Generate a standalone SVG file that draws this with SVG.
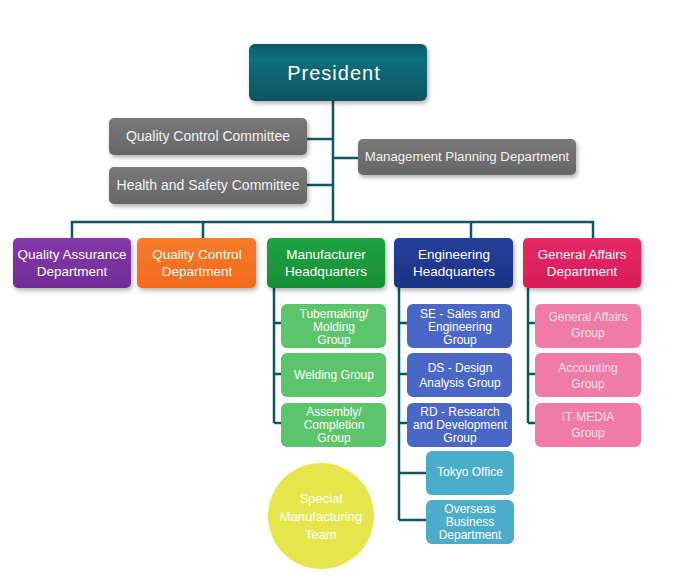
<svg xmlns="http://www.w3.org/2000/svg" width="675" height="578" viewBox="0 0 675 578">
<defs>
<filter id="sh" x="-10%" y="-10%" width="130%" height="140%"><feDropShadow dx="1.5" dy="2.5" stdDeviation="2" flood-color="#000" flood-opacity="0.3"/></filter>
<linearGradient id="gPres" x1="0" y1="0" x2="0" y2="1"><stop offset="0" stop-color="#0a5865"/><stop offset="0.25" stop-color="#0e6f7d"/><stop offset="1" stop-color="#085461"/></linearGradient>
<linearGradient id="gGray" x1="0" y1="0" x2="0" y2="1"><stop offset="0" stop-color="#787878"/><stop offset="1" stop-color="#676767"/></linearGradient>
<linearGradient id="gPur" x1="0" y1="0" x2="0" y2="1"><stop offset="0" stop-color="#8538a8"/><stop offset="1" stop-color="#722c98"/></linearGradient>
<linearGradient id="gOr" x1="0" y1="0" x2="0" y2="1"><stop offset="0" stop-color="#f67c2c"/><stop offset="1" stop-color="#f26a1c"/></linearGradient>
<linearGradient id="gGr" x1="0" y1="0" x2="0" y2="1"><stop offset="0" stop-color="#20a342"/><stop offset="1" stop-color="#178f35"/></linearGradient>
<linearGradient id="gNv" x1="0" y1="0" x2="0" y2="1"><stop offset="0" stop-color="#24409a"/><stop offset="1" stop-color="#1c3384"/></linearGradient>
<linearGradient id="gRd" x1="0" y1="0" x2="0" y2="1"><stop offset="0" stop-color="#e52a66"/><stop offset="1" stop-color="#d91c58"/></linearGradient>
<style>
.c{fill:none;stroke:#0d5860;stroke-width:2.5}
.t{font-family:"Liberation Sans",Arial,sans-serif;fill:#fff;text-anchor:middle}
.p{font-size:20px;letter-spacing:1px}
.m{font-size:14px;fill:#f2f2f2}
.d{font-size:13.5px}
.g{font-size:12px}
.pk{font-size:12px;fill:#fbe3ec}
.lg{fill:#5cc56c}
.lb{fill:#4a67c6}
.lp{fill:#f07ba6}
.lc{fill:#4badc9}
</style>
</defs>
<g id="connectors">
<path class="c" d="M333 101V222M307 139H333M307 185H333M333 158H358"/>
<path class="c" d="M72 238V222H593V238M203 222V238M471 222V238"/>
<path class="c" d="M274 288V423M274 323H281M274 374H281M274 423H281"/>
<path class="c" d="M399 288V520M399 323H407M399 374H407M399 423H407M399 473H426M399 520H426"/>
<path class="c" d="M528 288V423M528 323H535M528 374H535M528 423H535"/>
</g>
<g id="president"><rect x="249" y="44" width="178" height="57" rx="6" fill="url(#gPres)" filter="url(#sh)"/><text class="t p" x="334" y="80">President</text></g>
<g id="qcc"><rect x="109" y="118" width="198" height="37" rx="5" fill="url(#gGray)" filter="url(#sh)"/><text class="t m" x="208" y="141">Quality Control Committee</text></g>
<g id="hsc"><rect x="109" y="167" width="198" height="37" rx="5" fill="url(#gGray)" filter="url(#sh)"/><text class="t m" x="208" y="190">Health and Safety Committee</text></g>
<g id="mpd"><rect x="358" y="139" width="218" height="36" rx="5" fill="url(#gGray)" filter="url(#sh)"/><text class="t m" style="font-size:13.2px" x="467" y="161">Management Planning Department</text></g>
<g id="qad"><rect x="13" y="238" width="118" height="50" rx="5" fill="url(#gPur)" filter="url(#sh)"/><text class="t d" x="72" y="259">Quality Assurance</text><text class="t d" x="72" y="276">Department</text></g>
<g id="qcd"><rect x="137" y="238" width="119" height="50" rx="5" fill="url(#gOr)" filter="url(#sh)"/><text class="t d" x="197" y="259">Quality Control</text><text class="t d" x="197" y="276">Department</text></g>
<g id="mfh"><rect x="267" y="238" width="118" height="50" rx="5" fill="url(#gGr)" filter="url(#sh)"/><text class="t d" x="326" y="259">Manufacturer</text><text class="t d" x="326" y="276">Headquarters</text></g>
<g id="enh"><rect x="394" y="238" width="119" height="50" rx="5" fill="url(#gNv)" filter="url(#sh)"/><text class="t d" x="454" y="259">Engineering</text><text class="t d" x="454" y="276">Headquarters</text></g>
<g id="gad"><rect x="523" y="238" width="118" height="50" rx="5" fill="url(#gRd)" filter="url(#sh)"/><text class="t d" x="582" y="259">General Affairs</text><text class="t d" x="582" y="276">Department</text></g>
<g id="tube"><rect class="lg" x="281" y="304" width="105" height="44" rx="6"/><text class="t g" x="334" y="318">Tubemaking/</text><text class="t g" x="334" y="331">Molding</text><text class="t g" x="334" y="344">Group</text></g>
<g id="weld"><rect class="lg" x="281" y="353" width="105" height="44" rx="6"/><text class="t g" x="334" y="379">Welding Group</text></g>
<g id="assy"><rect class="lg" x="281" y="403" width="105" height="44" rx="6"/><text class="t g" x="334" y="416">Assembly/</text><text class="t g" x="334" y="429">Completion</text><text class="t g" x="334" y="442">Group</text></g>
<g id="se"><rect class="lb" x="407" y="304" width="105" height="44" rx="6"/><text class="t g" x="460" y="318">SE - Sales and</text><text class="t g" x="460" y="331">Engineering</text><text class="t g" x="460" y="344">Group</text></g>
<g id="ds"><rect class="lb" x="407" y="353" width="105" height="44" rx="6"/><text class="t g" x="460" y="372">DS - Design</text><text class="t g" x="460" y="387">Analysis Group</text></g>
<g id="rd"><rect class="lb" x="407" y="403" width="105" height="44" rx="6"/><text class="t g" x="460" y="416">RD - Research</text><text class="t g" x="460" y="429">and Development</text><text class="t g" x="460" y="442">Group</text></g>
<g id="tokyo"><rect class="lc" x="426" y="451" width="88" height="44" rx="6"/><text class="t g" x="470" y="476">Tokyo Office</text></g>
<g id="overseas"><rect class="lc" x="426" y="500" width="88" height="44" rx="6"/><text class="t g" x="470" y="513">Overseas</text><text class="t g" x="470" y="526">Business</text><text class="t g" x="470" y="539">Department</text></g>
<g id="gag"><rect class="lp" x="535" y="304" width="106" height="44" rx="6"/><text class="t pk" x="588" y="321">General Affairs</text><text class="t pk" x="588" y="337">Group</text></g>
<g id="acc"><rect class="lp" x="535" y="353" width="106" height="44" rx="6"/><text class="t pk" x="588" y="372">Accounting</text><text class="t pk" x="588" y="388">Group</text></g>
<g id="it"><rect class="lp" x="535" y="403" width="106" height="44" rx="6"/><text class="t pk" x="588" y="421">IT·MEDIA</text><text class="t pk" x="588" y="437">Group</text></g>
<g id="smt"><circle cx="321" cy="516" r="53" fill="#e6e64c"/><text class="t" style="font-size:13px" x="321" y="503">Special</text><text class="t" style="font-size:13px" x="321" y="521">Manufacturing</text><text class="t" style="font-size:13px" x="321" y="539">Team</text></g>
</svg>
